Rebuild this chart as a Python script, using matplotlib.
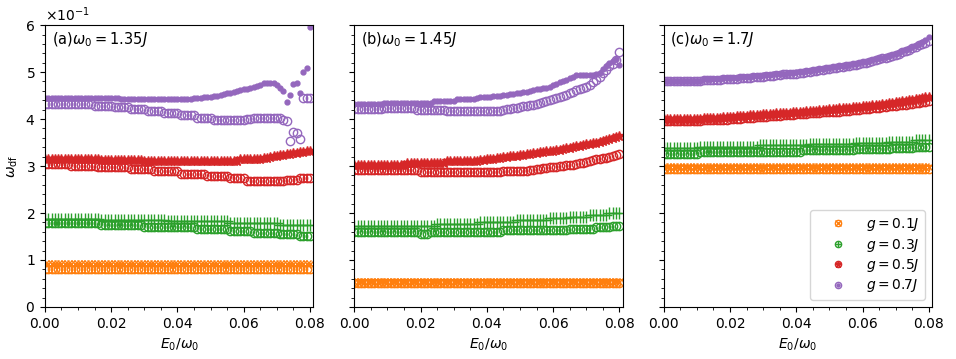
import numpy as np
import matplotlib.pyplot as plt
from matplotlib.lines import Line2D
from matplotlib.ticker import AutoMinorLocator

# values read in units of 1e-1 (as shown on the axis)
E = np.linspace(0, 0.08, 81)

# ---- panel (a) ----
a_g01_m = [
    0.91, 0.91, 0.91, 0.91, 0.91, 0.91, 0.91, 0.91, 0.91,
    0.91, 0.91, 0.91, 0.91, 0.91, 0.91, 0.91, 0.91, 0.91,
    0.91, 0.91, 0.91, 0.91, 0.91, 0.91, 0.91, 0.91, 0.91,
    0.91, 0.91, 0.91, 0.91, 0.91, 0.91, 0.91, 0.91, 0.91,
    0.91, 0.91, 0.91, 0.91, 0.91, 0.91, 0.91, 0.91, 0.91,
    0.91, 0.91, 0.91, 0.91, 0.91, 0.91, 0.91, 0.91, 0.91,
    0.91, 0.91, 0.91, 0.91, 0.91, 0.91, 0.91, 0.91, 0.91,
    0.91, 0.91, 0.91, 0.91, 0.91, 0.91, 0.91, 0.91, 0.91,
    0.91, 0.91, 0.91, 0.91, 0.91, 0.91, 0.91, 0.91, 0.91]
a_g01_c = [
    0.81, 0.81, 0.81, 0.81, 0.81, 0.81, 0.81, 0.81, 0.81,
    0.81, 0.81, 0.81, 0.81, 0.81, 0.81, 0.81, 0.81, 0.81,
    0.81, 0.81, 0.81, 0.81, 0.81, 0.81, 0.81, 0.81, 0.81,
    0.81, 0.81, 0.81, 0.81, 0.81, 0.81, 0.81, 0.81, 0.81,
    0.81, 0.81, 0.81, 0.81, 0.81, 0.81, 0.81, 0.81, 0.81,
    0.81, 0.81, 0.81, 0.81, 0.81, 0.81, 0.81, 0.81, 0.81,
    0.81, 0.81, 0.81, 0.81, 0.81, 0.81, 0.81, 0.81, 0.81,
    0.81, 0.81, 0.81, 0.81, 0.81, 0.81, 0.81, 0.81, 0.81,
    0.81, 0.81, 0.81, 0.81, 0.81, 0.81, 0.81, 0.81, 0.81]
a_g03_m = [
    1.88, 1.88, 1.88, 1.88, 1.88, 1.88, 1.88, 1.88, 1.88,
    1.88, 1.88, 1.88, 1.88, 1.88, 1.88, 1.88, 1.88, 1.86,
    1.86, 1.86, 1.86, 1.86, 1.86, 1.86, 1.86, 1.86, 1.86,
    1.86, 1.86, 1.86, 1.86, 1.86, 1.86, 1.86, 1.86, 1.86,
    1.86, 1.82, 1.82, 1.82, 1.82, 1.82, 1.82, 1.82, 1.82,
    1.82, 1.82, 1.82, 1.82, 1.82, 1.82, 1.82, 1.82, 1.82,
    1.82, 1.82, 1.78, 1.78, 1.78, 1.78, 1.78, 1.78, 1.78,
    1.78, 1.78, 1.78, 1.78, 1.78, 1.78, 1.78, 1.78, 1.75,
    1.75, 1.75, 1.75, 1.75, 1.75, 1.75, 1.75, 1.75, 1.75]
a_g03_c = [
    1.78, 1.78, 1.78, 1.78, 1.78, 1.78, 1.78, 1.78, 1.78,
    1.78, 1.78, 1.78, 1.78, 1.78, 1.78, 1.78, 1.78, 1.75,
    1.75, 1.75, 1.75, 1.75, 1.75, 1.75, 1.75, 1.75, 1.75,
    1.75, 1.75, 1.75, 1.71, 1.71, 1.71, 1.71, 1.71, 1.71,
    1.71, 1.71, 1.71, 1.71, 1.71, 1.71, 1.71, 1.71, 1.71,
    1.71, 1.66, 1.66, 1.66, 1.66, 1.66, 1.66, 1.66, 1.66,
    1.66, 1.66, 1.62, 1.62, 1.62, 1.62, 1.62, 1.62, 1.62,
    1.58, 1.58, 1.58, 1.58, 1.58, 1.58, 1.58, 1.58, 1.55,
    1.55, 1.55, 1.55, 1.55, 1.55, 1.51, 1.51, 1.51, 1.51]
a_g05_m = [
    3.15, 3.15, 3.15, 3.15, 3.15, 3.15, 3.15, 3.15, 3.15,
    3.15, 3.15, 3.15, 3.15, 3.15, 3.15, 3.15, 3.15, 3.13,
    3.13, 3.13, 3.13, 3.13, 3.13, 3.13, 3.13, 3.13, 3.13,
    3.13, 3.13, 3.13, 3.10, 3.10, 3.10, 3.10, 3.10, 3.10,
    3.10, 3.10, 3.10, 3.10, 3.10, 3.10, 3.10, 3.10, 3.10,
    3.10, 3.10, 3.10, 3.10, 3.10, 3.10, 3.10, 3.10, 3.10,
    3.10, 3.10, 3.10, 3.10, 3.10, 3.14, 3.14, 3.14, 3.14,
    3.14, 3.15, 3.16, 3.17, 3.18, 3.19, 3.21, 3.22, 3.23,
    3.24, 3.25, 3.26, 3.27, 3.28, 3.29, 3.30, 3.31, 3.32]
a_g05_c = [
    3.04, 3.04, 3.04, 3.04, 3.04, 3.04, 3.04, 3.04, 3.00,
    3.00, 3.00, 3.00, 3.00, 3.00, 3.00, 3.00, 2.97, 2.97,
    2.97, 2.97, 2.97, 2.97, 2.97, 2.97, 2.97, 2.97, 2.93,
    2.93, 2.93, 2.93, 2.93, 2.93, 2.93, 2.89, 2.89, 2.89,
    2.89, 2.89, 2.89, 2.89, 2.89, 2.84, 2.84, 2.84, 2.84,
    2.84, 2.84, 2.84, 2.84, 2.79, 2.79, 2.79, 2.79, 2.79,
    2.79, 2.79, 2.74, 2.74, 2.74, 2.74, 2.74, 2.69, 2.69,
    2.69, 2.69, 2.69, 2.69, 2.69, 2.69, 2.69, 2.69, 2.69,
    2.69, 2.71, 2.71, 2.71, 2.71, 2.75, 2.75, 2.75, 2.75]
a_g07_m = [
    4.44, 4.44, 4.44, 4.44, 4.44, 4.44, 4.44, 4.44, 4.44,
    4.44, 4.44, 4.44, 4.44, 4.44, 4.44, 4.44, 4.44, 4.44,
    4.44, 4.44, 4.44, 4.44, 4.44, 4.42, 4.42, 4.42, 4.42,
    4.42, 4.42, 4.42, 4.42, 4.42, 4.42, 4.42, 4.42, 4.42,
    4.42, 4.42, 4.42, 4.42, 4.42, 4.42, 4.42, 4.42, 4.42,
    4.45, 4.45, 4.45, 4.46, 4.47, 4.48, 4.49, 4.50, 4.52,
    4.53, 4.55, 4.56, 4.58, 4.59, 4.61, 4.63, 4.65, 4.67,
    4.69, 4.71, 4.73, 4.76, 4.77, 4.77, 4.76, 4.72, 4.66,
    4.60, 4.36, 4.51, 4.74, 4.77, 4.55, 5.00, 5.08, 5.96]
a_g07_c = [
    4.32, 4.32, 4.32, 4.32, 4.32, 4.32, 4.32, 4.32, 4.32,
    4.32, 4.32, 4.32, 4.32, 4.32, 4.32, 4.28, 4.28, 4.28,
    4.28, 4.28, 4.28, 4.25, 4.25, 4.25, 4.25, 4.25, 4.21,
    4.21, 4.21, 4.21, 4.21, 4.17, 4.17, 4.17, 4.17, 4.17,
    4.12, 4.12, 4.12, 4.12, 4.12, 4.08, 4.08, 4.08, 4.08,
    4.08, 4.03, 4.03, 4.03, 4.03, 4.03, 3.99, 3.99, 3.99,
    3.99, 3.98, 3.98, 3.98, 3.98, 3.98, 3.98, 4.00, 4.00,
    4.03, 4.03, 4.03, 4.03, 4.03, 4.03, 4.03, 4.03, 4.03,
    3.99, 3.96, 3.54, 3.73, 3.71, 3.57, 4.45, 4.45, 4.44]

# ---- panel (b) ----
b_g01_m = [
    0.53, 0.53, 0.53, 0.53, 0.53, 0.53, 0.53, 0.53, 0.53,
    0.53, 0.53, 0.53, 0.53, 0.53, 0.53, 0.53, 0.53, 0.53,
    0.53, 0.53, 0.53, 0.53, 0.53, 0.53, 0.53, 0.53, 0.53,
    0.53, 0.53, 0.53, 0.53, 0.53, 0.53, 0.53, 0.53, 0.53,
    0.53, 0.53, 0.53, 0.53, 0.53, 0.53, 0.53, 0.53, 0.53,
    0.53, 0.53, 0.53, 0.53, 0.53, 0.53, 0.53, 0.53, 0.53,
    0.53, 0.53, 0.53, 0.53, 0.53, 0.53, 0.53, 0.53, 0.53,
    0.53, 0.53, 0.53, 0.53, 0.53, 0.53, 0.53, 0.53, 0.53,
    0.53, 0.53, 0.53, 0.53, 0.53, 0.53, 0.53, 0.53, 0.53]
b_g01_c = [
    0.52, 0.52, 0.52, 0.52, 0.52, 0.52, 0.52, 0.52, 0.52,
    0.52, 0.52, 0.52, 0.52, 0.52, 0.52, 0.52, 0.52, 0.52,
    0.52, 0.52, 0.52, 0.52, 0.52, 0.52, 0.52, 0.52, 0.52,
    0.52, 0.52, 0.52, 0.52, 0.52, 0.52, 0.52, 0.52, 0.52,
    0.52, 0.52, 0.52, 0.52, 0.52, 0.52, 0.52, 0.52, 0.52,
    0.52, 0.52, 0.52, 0.52, 0.52, 0.52, 0.52, 0.52, 0.52,
    0.52, 0.52, 0.52, 0.52, 0.52, 0.52, 0.52, 0.52, 0.52,
    0.52, 0.52, 0.52, 0.52, 0.52, 0.52, 0.52, 0.52, 0.52,
    0.52, 0.52, 0.52, 0.52, 0.52, 0.52, 0.52, 0.52, 0.52]
b_g03_m = [
    1.72, 1.72, 1.72, 1.72, 1.72, 1.72, 1.72, 1.72, 1.72,
    1.72, 1.72, 1.72, 1.72, 1.72, 1.72, 1.72, 1.72, 1.72,
    1.72, 1.72, 1.72, 1.72, 1.72, 1.72, 1.72, 1.77, 1.77,
    1.77, 1.77, 1.77, 1.77, 1.77, 1.77, 1.77, 1.77, 1.77,
    1.77, 1.77, 1.81, 1.81, 1.81, 1.81, 1.81, 1.81, 1.81,
    1.81, 1.81, 1.81, 1.81, 1.85, 1.85, 1.85, 1.85, 1.85,
    1.85, 1.85, 1.85, 1.85, 1.85, 1.89, 1.89, 1.89, 1.89,
    1.89, 1.89, 1.92, 1.92, 1.92, 1.92, 1.92, 1.92, 1.96,
    1.96, 1.96, 1.96, 1.96, 1.96, 2.01, 2.01, 2.01, 2.01]
b_g03_c = [
    1.60, 1.60, 1.60, 1.60, 1.60, 1.60, 1.60, 1.60, 1.60,
    1.60, 1.60, 1.60, 1.60, 1.60, 1.60, 1.60, 1.60, 1.60,
    1.60, 1.60, 1.56, 1.56, 1.56, 1.60, 1.60, 1.60, 1.60,
    1.60, 1.60, 1.60, 1.60, 1.60, 1.60, 1.60, 1.60, 1.60,
    1.60, 1.60, 1.60, 1.60, 1.60, 1.60, 1.60, 1.60, 1.60,
    1.64, 1.64, 1.64, 1.64, 1.64, 1.64, 1.64, 1.64, 1.64,
    1.64, 1.64, 1.64, 1.64, 1.64, 1.64, 1.64, 1.64, 1.64,
    1.64, 1.64, 1.67, 1.67, 1.67, 1.67, 1.67, 1.67, 1.67,
    1.67, 1.70, 1.70, 1.70, 1.70, 1.70, 1.72, 1.72, 1.72]
b_g05_m = [
    3.03, 3.03, 3.03, 3.03, 3.03, 3.03, 3.03, 3.03, 3.03,
    3.03, 3.03, 3.03, 3.03, 3.03, 3.03, 3.03, 3.06, 3.06,
    3.06, 3.06, 3.06, 3.06, 3.06, 3.06, 3.06, 3.06, 3.06,
    3.06, 3.10, 3.10, 3.10, 3.10, 3.10, 3.10, 3.10, 3.10,
    3.10, 3.10, 3.12, 3.13, 3.14, 3.15, 3.16, 3.17, 3.18,
    3.19, 3.20, 3.21, 3.22, 3.22, 3.23, 3.24, 3.25, 3.26,
    3.27, 3.28, 3.29, 3.30, 3.31, 3.32, 3.33, 3.34, 3.35,
    3.37, 3.38, 3.39, 3.40, 3.42, 3.43, 3.44, 3.46, 3.47,
    3.49, 3.50, 3.52, 3.54, 3.55, 3.57, 3.59, 3.61, 3.63]
b_g05_c = [
    2.91, 2.91, 2.91, 2.91, 2.91, 2.91, 2.91, 2.91, 2.91,
    2.91, 2.91, 2.91, 2.91, 2.91, 2.91, 2.91, 2.91, 2.91,
    2.91, 2.91, 2.88, 2.88, 2.88, 2.88, 2.88, 2.88, 2.88,
    2.88, 2.88, 2.88, 2.88, 2.88, 2.88, 2.88, 2.88, 2.88,
    2.88, 2.88, 2.88, 2.88, 2.88, 2.88, 2.88, 2.88, 2.88,
    2.90, 2.90, 2.90, 2.90, 2.90, 2.90, 2.90, 2.90, 2.91,
    2.92, 2.93, 2.94, 2.95, 2.96, 2.97, 2.98, 2.99, 3.00,
    3.01, 3.02, 3.03, 3.03, 3.04, 3.06, 3.07, 3.09, 3.10,
    3.12, 3.14, 3.15, 3.17, 3.18, 3.20, 3.22, 3.24, 3.26]
b_g07_m = [
    4.32, 4.32, 4.32, 4.32, 4.32, 4.32, 4.32, 4.32, 4.32,
    4.35, 4.35, 4.35, 4.35, 4.35, 4.35, 4.35, 4.35, 4.35,
    4.35, 4.35, 4.35, 4.35, 4.35, 4.35, 4.38, 4.38, 4.38,
    4.38, 4.38, 4.38, 4.38, 4.42, 4.42, 4.42, 4.42, 4.42,
    4.42, 4.45, 4.46, 4.46, 4.47, 4.48, 4.49, 4.50, 4.50,
    4.51, 4.52, 4.53, 4.54, 4.55, 4.56, 4.57, 4.58, 4.59,
    4.61, 4.63, 4.64, 4.66, 4.67, 4.69, 4.72, 4.75, 4.78,
    4.81, 4.84, 4.87, 4.90, 4.93, 4.94, 4.94, 4.94, 4.94,
    4.94, 4.95, 4.99, 5.07, 5.13, 5.19, 5.24, 5.27, 5.15]
b_g07_c = [
    4.21, 4.21, 4.21, 4.21, 4.21, 4.21, 4.21, 4.21, 4.21,
    4.24, 4.24, 4.24, 4.24, 4.24, 4.24, 4.24, 4.24, 4.24,
    4.24, 4.19, 4.19, 4.19, 4.19, 4.19, 4.19, 4.19, 4.19,
    4.19, 4.17, 4.17, 4.17, 4.17, 4.17, 4.17, 4.17, 4.17,
    4.17, 4.17, 4.17, 4.17, 4.17, 4.17, 4.17, 4.17, 4.17,
    4.20, 4.21, 4.22, 4.23, 4.24, 4.25, 4.27, 4.28, 4.30,
    4.31, 4.33, 4.34, 4.36, 4.38, 4.40, 4.42, 4.44, 4.47,
    4.49, 4.52, 4.55, 4.58, 4.61, 4.63, 4.66, 4.69, 4.73,
    4.78, 4.83, 4.90, 4.98, 5.05, 5.12, 5.17, 5.25, 5.43]

# ---- panel (c) ----
c_g01_m = [
    2.98, 2.98, 2.98, 2.98, 2.98, 2.98, 2.98, 2.98, 2.98,
    2.98, 2.98, 2.98, 2.98, 2.98, 2.98, 2.98, 2.98, 2.98,
    2.98, 2.98, 2.98, 2.98, 2.98, 2.98, 2.98, 2.98, 2.98,
    2.98, 2.98, 2.98, 2.98, 2.98, 2.98, 2.98, 2.98, 2.98,
    2.98, 2.98, 2.98, 2.98, 2.98, 2.98, 2.98, 2.98, 2.98,
    2.98, 2.98, 2.98, 2.98, 2.98, 2.98, 2.98, 2.98, 2.98,
    2.98, 2.98, 2.98, 2.98, 2.98, 2.98, 2.98, 2.98, 2.98,
    2.98, 2.98, 2.98, 2.98, 2.98, 2.98, 2.98, 2.98, 2.98,
    2.98, 2.98, 2.98, 2.98, 2.98, 2.98, 2.98, 2.98, 2.98]
c_g01_c = [
    2.93, 2.93, 2.93, 2.93, 2.93, 2.93, 2.93, 2.93, 2.93,
    2.93, 2.93, 2.93, 2.93, 2.93, 2.93, 2.93, 2.93, 2.93,
    2.93, 2.93, 2.93, 2.93, 2.93, 2.93, 2.93, 2.93, 2.93,
    2.93, 2.93, 2.93, 2.93, 2.93, 2.93, 2.93, 2.93, 2.93,
    2.93, 2.93, 2.93, 2.93, 2.93, 2.93, 2.93, 2.93, 2.93,
    2.93, 2.93, 2.93, 2.93, 2.93, 2.93, 2.93, 2.93, 2.93,
    2.93, 2.93, 2.93, 2.93, 2.93, 2.93, 2.93, 2.93, 2.93,
    2.93, 2.93, 2.93, 2.93, 2.93, 2.93, 2.93, 2.93, 2.93,
    2.93, 2.93, 2.93, 2.93, 2.93, 2.93, 2.93, 2.93, 2.93]
c_g03_m = [
    3.38, 3.38, 3.38, 3.38, 3.38, 3.38, 3.38, 3.38, 3.38,
    3.38, 3.38, 3.41, 3.41, 3.41, 3.41, 3.41, 3.41, 3.41,
    3.41, 3.41, 3.41, 3.41, 3.41, 3.41, 3.41, 3.41, 3.41,
    3.41, 3.41, 3.44, 3.44, 3.44, 3.44, 3.44, 3.44, 3.44,
    3.44, 3.44, 3.44, 3.44, 3.44, 3.44, 3.44, 3.44, 3.47,
    3.47, 3.47, 3.47, 3.47, 3.47, 3.47, 3.47, 3.47, 3.47,
    3.47, 3.47, 3.47, 3.47, 3.50, 3.50, 3.50, 3.50, 3.50,
    3.50, 3.50, 3.50, 3.50, 3.50, 3.52, 3.52, 3.52, 3.52,
    3.52, 3.52, 3.52, 3.52, 3.55, 3.55, 3.55, 3.55, 3.55]
c_g03_c = [
    3.26, 3.26, 3.26, 3.26, 3.26, 3.26, 3.26, 3.26, 3.26,
    3.26, 3.26, 3.30, 3.30, 3.30, 3.30, 3.30, 3.30, 3.30,
    3.30, 3.30, 3.30, 3.30, 3.30, 3.30, 3.30, 3.30, 3.30,
    3.30, 3.30, 3.30, 3.30, 3.30, 3.30, 3.30, 3.30, 3.30,
    3.30, 3.30, 3.30, 3.30, 3.30, 3.30, 3.34, 3.34, 3.34,
    3.34, 3.34, 3.34, 3.34, 3.34, 3.34, 3.34, 3.34, 3.34,
    3.34, 3.34, 3.34, 3.34, 3.37, 3.37, 3.37, 3.37, 3.37,
    3.37, 3.37, 3.37, 3.37, 3.37, 3.37, 3.39, 3.39, 3.39,
    3.39, 3.39, 3.39, 3.39, 3.41, 3.41, 3.41, 3.41, 3.41]
c_g05_m = [
    4.01, 4.01, 4.01, 4.01, 4.01, 4.01, 4.01, 4.01, 4.01,
    4.01, 4.01, 4.01, 4.03, 4.03, 4.03, 4.03, 4.03, 4.03,
    4.04, 4.04, 4.05, 4.05, 4.06, 4.06, 4.07, 4.07, 4.08,
    4.08, 4.09, 4.09, 4.10, 4.10, 4.11, 4.11, 4.12, 4.12,
    4.12, 4.13, 4.13, 4.14, 4.15, 4.15, 4.16, 4.17, 4.17,
    4.18, 4.18, 4.19, 4.20, 4.20, 4.21, 4.22, 4.22, 4.23,
    4.23, 4.24, 4.24, 4.25, 4.26, 4.26, 4.27, 4.28, 4.28,
    4.29, 4.30, 4.31, 4.32, 4.33, 4.34, 4.35, 4.36, 4.37,
    4.38, 4.39, 4.40, 4.41, 4.42, 4.43, 4.44, 4.46, 4.47]
c_g05_c = [
    3.96, 3.96, 3.96, 3.96, 3.96, 3.96, 3.96, 3.96, 3.96,
    3.96, 3.96, 3.96, 3.98, 3.98, 3.98, 3.98, 3.98, 3.98,
    3.99, 3.99, 4.00, 4.00, 4.01, 4.01, 4.02, 4.02, 4.03,
    4.03, 4.04, 4.04, 4.05, 4.05, 4.06, 4.06, 4.07, 4.07,
    4.08, 4.08, 4.09, 4.09, 4.10, 4.10, 4.11, 4.11, 4.12,
    4.12, 4.13, 4.13, 4.14, 4.14, 4.15, 4.15, 4.16, 4.16,
    4.17, 4.17, 4.18, 4.19, 4.19, 4.20, 4.21, 4.21, 4.22,
    4.23, 4.23, 4.24, 4.25, 4.26, 4.27, 4.28, 4.28, 4.29,
    4.30, 4.31, 4.32, 4.33, 4.34, 4.35, 4.36, 4.37, 4.38]
c_g07_m = [
    4.82, 4.82, 4.82, 4.82, 4.82, 4.82, 4.82, 4.82, 4.82,
    4.82, 4.82, 4.82, 4.85, 4.85, 4.85, 4.85, 4.85, 4.85,
    4.87, 4.87, 4.87, 4.88, 4.88, 4.89, 4.89, 4.90, 4.90,
    4.91, 4.91, 4.92, 4.93, 4.93, 4.94, 4.95, 4.95, 4.96,
    4.97, 4.97, 4.98, 4.99, 5.00, 5.00, 5.01, 5.02, 5.03,
    5.04, 5.05, 5.06, 5.07, 5.08, 5.09, 5.10, 5.11, 5.12,
    5.13, 5.14, 5.16, 5.17, 5.18, 5.20, 5.21, 5.22, 5.24,
    5.26, 5.27, 5.29, 5.31, 5.33, 5.35, 5.37, 5.39, 5.41,
    5.44, 5.47, 5.50, 5.53, 5.56, 5.60, 5.64, 5.69, 5.74]
c_g07_c = [
    4.80, 4.80, 4.80, 4.80, 4.80, 4.80, 4.80, 4.80, 4.80,
    4.80, 4.80, 4.80, 4.83, 4.83, 4.83, 4.83, 4.83, 4.83,
    4.85, 4.85, 4.85, 4.86, 4.86, 4.87, 4.87, 4.88, 4.88,
    4.89, 4.89, 4.90, 4.90, 4.91, 4.92, 4.92, 4.93, 4.94,
    4.95, 4.95, 4.96, 4.97, 4.97, 4.98, 4.99, 5.00, 5.01,
    5.02, 5.03, 5.04, 5.05, 5.06, 5.07, 5.08, 5.09, 5.10,
    5.11, 5.12, 5.13, 5.15, 5.16, 5.17, 5.19, 5.20, 5.22,
    5.23, 5.25, 5.27, 5.29, 5.31, 5.33, 5.35, 5.37, 5.39,
    5.42, 5.45, 5.48, 5.51, 5.54, 5.57, 5.60, 5.63, 5.66]

panels = [
    [(a_g01_m, a_g01_c), (a_g03_m, a_g03_c), (a_g05_m, a_g05_c), (a_g07_m, a_g07_c)],
    [(b_g01_m, b_g01_c), (b_g03_m, b_g03_c), (b_g05_m, b_g05_c), (b_g07_m, b_g07_c)],
    [(c_g01_m, c_g01_c), (c_g03_m, c_g03_c), (c_g05_m, c_g05_c), (c_g07_m, c_g07_c)],
]
titles = ['(a)$\\omega_0 = 1.35J$', '(b)$\\omega_0 = 1.45J$', '(c)$\\omega_0 = 1.7J$']
g_labels = ['$g = 0.1J$', '$g = 0.3J$', '$g = 0.5J$', '$g = 0.7J$']
colors = ['tab:orange', 'tab:green', 'tab:red', 'tab:purple']
markers = ['x', '+', '*', '.']
msizes = [6, 8, 7, 7]

fig, axs = plt.subplots(1, 3, figsize=(9.56, 3.59), dpi=100, sharey=True)
fig.subplots_adjust(left=0.047, right=0.975, bottom=0.145, top=0.930, wspace=0.153)

for ax, data, title in zip(axs, panels, titles):
    for (ym, yc), c, m, ms in zip(data, colors, markers, msizes):
        ax.plot(E, np.array(yc)*0.1, ls='none', marker='o', mfc='none', mec=c, ms=6, mew=1)
        ax.plot(E, np.array(ym)*0.1, ls='none', marker=m, color=c, ms=ms, mew=1)
    ax.set_xlim(0, 0.081)
    ax.set_ylim(0, 0.6)
    ax.set_xticks([0, 0.02, 0.04, 0.06, 0.08])
    ax.xaxis.set_minor_locator(AutoMinorLocator())
    ax.yaxis.set_minor_locator(AutoMinorLocator())
    ax.set_xlabel('$E_0/\\omega_0$')
    ax.text(0.025, 0.95, title, transform=ax.transAxes, va='center', ha='left', fontsize=10.5)

axs[0].ticklabel_format(axis='y', style='sci', scilimits=(-1, -1), useMathText=True)
axs[0].set_ylabel('$\\omega_{\\rm df}$')

handles = []
for c, m in zip(colors, markers):
    h1 = Line2D([], [], ls='none', marker='o', mfc='none', mec=c, ms=4.5)
    h2 = Line2D([], [], ls='none', marker=m, color=c, ms=4.5)
    handles.append((h1, h2))
axs[2].legend(handles, g_labels, loc='lower right', handlelength=3.2,
              handletextpad=0.4, labelspacing=0.25)

plt.savefig('out.png')
